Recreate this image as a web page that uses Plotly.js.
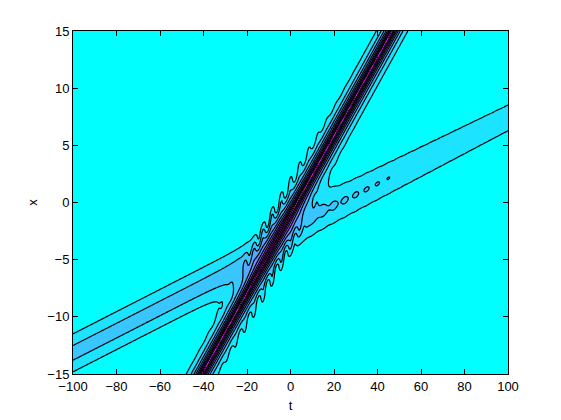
<!DOCTYPE html>
<html>
<head>
<meta charset="utf-8">
<script src="https://cdn.plot.ly/plotly-3.0.1.min.js"></script>
<style>body{margin:0;background:#fff}</style>
</head>
<body>
<div id="plotArea" style="width:561px;height:420px"></div>
<script>
// axis limits and ticks
var tLimits = [-100, 100];
var xLimits = [-15, 15];
var tTicks = [-100, -80, -60, -40, -20, 0, 20, 40, 60, 80, 100];
var xTicks = [-15, -10, -5, 0, 5, 10, 15];

// centre lines of the two humps as (t, x) pairs
var fastT = [-40.7, 46.7];
var fastX = [-15, 15];
var slowLeftT = [-100, -10];
var slowLeftX = [-13.15, -4.4];
var slowRightT = [0, 100];
var slowRightX = [-2.2, 7.4];

// heights and widths: fast, slow before crossing, slow after (t=0, t=100)
var peaks = [0.96, 0.23, 0.205, 0.19];
var widths = [1.1, 1.7, 1.75, 1.33];

// ripples around the crossing and dashes along the slow hump
var rippleAmp = 0.09;
var rippleCentre = -8;
var ripplePeriod = 4.2;
var dashAmp = 0.008;
var dashPeriod = 5;

var levels = {start: 0.1, end: 0.9, size: 0.1};

function lineAt(ts, xs, t) {
    return xs[0] + (xs[1] - xs[0]) * (t - ts[0]) / (ts[1] - ts[0]);
}
function sech2(u) {
    var c = Math.cosh(u);
    return 1 / (c * c);
}

var tGrid = [], xGrid = [];
for (var t = tLimits[0]; t <= tLimits[1] + 1e-9; t += 0.5) tGrid.push(t);
for (var x = xLimits[0]; x <= xLimits[1] + 1e-9; x += 0.08) xGrid.push(+x.toFixed(2));

var z = [];
for (var j = 0; j < xGrid.length; j++) {
    var row = [];
    var xv = xGrid[j];
    for (var i = 0; i < tGrid.length; i++) {
        var tv = tGrid[i];
        var cf = lineAt(fastT, fastX, tv);
        var d = xv - cf;
        var fast = peaks[0] * Math.exp(-Math.sqrt(d * d + 0.004) / widths[0]);

        var s = 0.5 * (1 + Math.tanh((tv + 10) / 4));
        var cL = lineAt(slowLeftT, slowLeftX, tv);
        var cR = lineAt(slowRightT, slowRightX, tv);
        var f = Math.min(Math.max(tv / 100, 0), 1);
        var aR = peaks[2] + (peaks[3] - peaks[2]) * f +
            dashAmp * Math.exp(-Math.max(tv, 0) / 40) * Math.cos(2 * Math.PI * tv / dashPeriod);
        var wR = widths[2] + (widths[3] - widths[2]) * f;
        var c = (1 - s) * cL + s * cR;
        var a = (1 - s) * peaks[1] + s * aR;
        var w = (1 - s) * widths[1] + s * wR;
        var slow = a * sech2((xv - c) / w);

        var rip = rippleAmp * Math.exp(-Math.pow((tv - rippleCentre) / 18, 2)) *
            Math.exp(-Math.pow((Math.abs(d) - 2.7) / 0.8, 2)) *
            Math.cos(2 * Math.PI * tv / ripplePeriod);

        row.push(fast + slow * (1 - fast) + rip);
    }
    z.push(row);
}

var trace = [{
    type: "contour",
    x: tGrid,
    y: xGrid,
    z: z,
    autocontour: false,
    contours: {start: levels.start, end: levels.end, size: levels.size, coloring: "fill"},
    colorscale: [[0, "#00ffff"], [1, "#ff00ff"]],
    line: {color: "#000", width: 1.2, smoothing: 0},
    showscale: false,
    hoverinfo: "skip"
}];

var axisFont = {family: "Liberation Sans, Arial, sans-serif", size: 13, color: "#000"};

var layout = {
    width: 561,
    height: 420,
    margin: {l: 73, r: 53, t: 31, b: 46},
    paper_bgcolor: "#fff",
    plot_bgcolor: "#00ffff",
    font: axisFont,
    showlegend: false,
    xaxis: {
        range: tLimits,
        tickvals: tTicks,
        ticks: "inside",
        ticklen: 5,
        tickcolor: "#000",
        showline: true,
        linecolor: "#000",
        linewidth: 1,
        mirror: "ticks",
        showgrid: false,
        zeroline: false,
        title: {text: "t", font: axisFont, standoff: 8}
    },
    yaxis: {
        range: xLimits,
        tickvals: xTicks,
        ticks: "inside",
        ticklen: 5,
        tickcolor: "#000",
        showline: true,
        linecolor: "#000",
        linewidth: 1,
        mirror: "ticks",
        showgrid: false,
        zeroline: false,
        title: {text: "x", font: axisFont, standoff: 6}
    }
};

Plotly.newPlot("plotArea", trace, layout, {displayModeBar: false, staticPlot: true});
</script>
</body>
</html>
